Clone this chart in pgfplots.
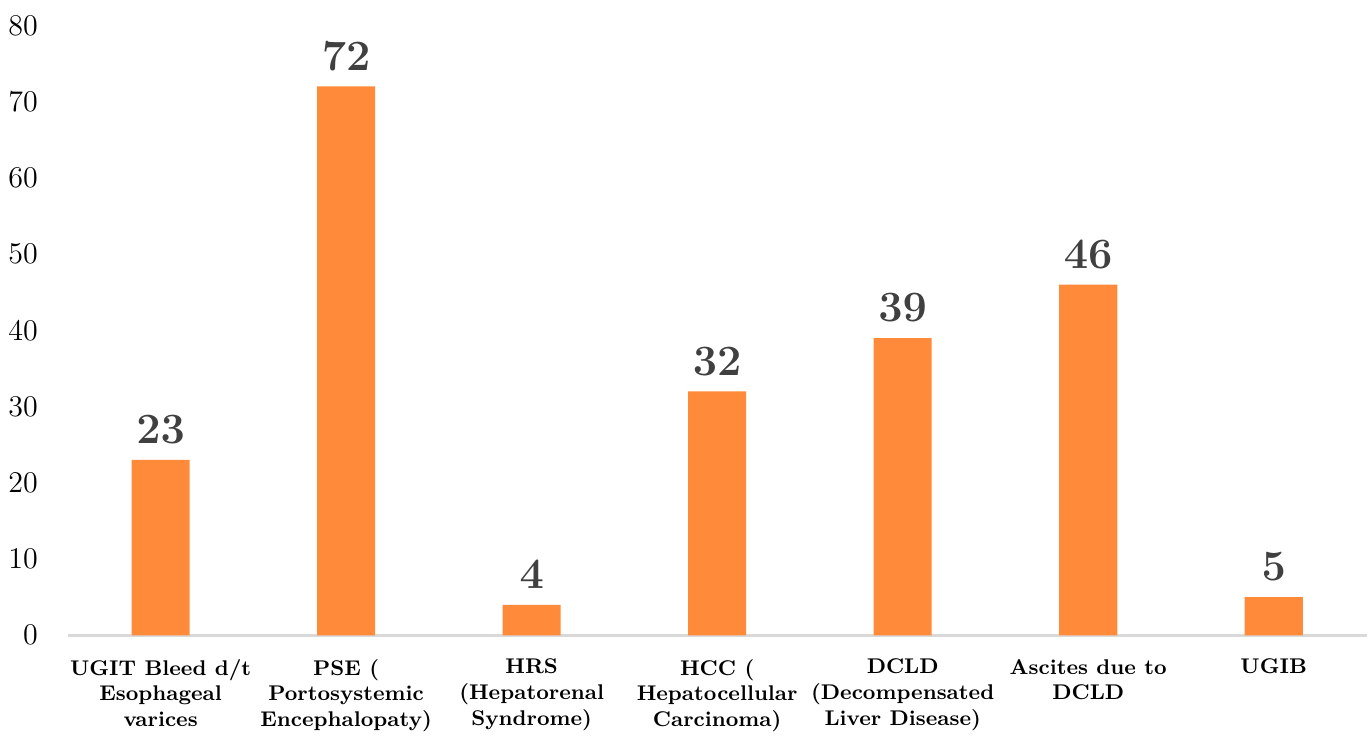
\documentclass[border={0pt 0pt 0pt 3pt}]{standalone}
\usepackage{pgfplots}
\pgfplotsset{compat=1.18}
\definecolor{barorange}{HTML}{FF8A3A}
\definecolor{lblgray}{HTML}{404040}
\definecolor{axgray}{HTML}{D9D9D9}
\begin{document}
\begin{tikzpicture}
\begin{axis}[
    scale only axis,
    width=518.8pt, height=243.6pt,
    ymin=0, ymax=80,
    xmin=-0.5, xmax=6.5,
    ytick={0,10,...,80},
    axis y line*=left,
    axis x line*=bottom,
    y axis line style={draw=none},
    x axis line style={axgray, line width=1.2pt},
    major tick length=0pt,
    yticklabel style={font=\fontsize{12.5}{14}\selectfont, xshift=-8.5pt},
    xtick=data,
    xticklabels={
      {UGIT Bleed d/t\\Esophageal\\varices},
      {PSE (\\Portosystemic\\Encephalopaty)},
      {HRS\\(Hepatorenal\\Syndrome)},
      {HCC (\\Hepatocellular\\Carcinoma)},
      {DCLD\\(Decompensated\\Liver Disease)},
      {Ascites due to\\DCLD},
      {UGIB}},
    xticklabel style={font=\fontsize{8.5}{10.2}\selectfont\bfseries, align=center, anchor=north, yshift=-6pt},
    ybar, bar width=23.2pt,
    nodes near coords,
    every node near coord/.append style={font=\fontsize{18}{20}\selectfont\boldmath, text=lblgray, yshift=3pt},
    clip=false,
]
\addplot[fill=barorange, draw=none] coordinates {
  (0,23) (1,72) (2,4) (3,32) (4,39) (5,46) (6,5)};
\end{axis}
\end{tikzpicture}
\end{document}
